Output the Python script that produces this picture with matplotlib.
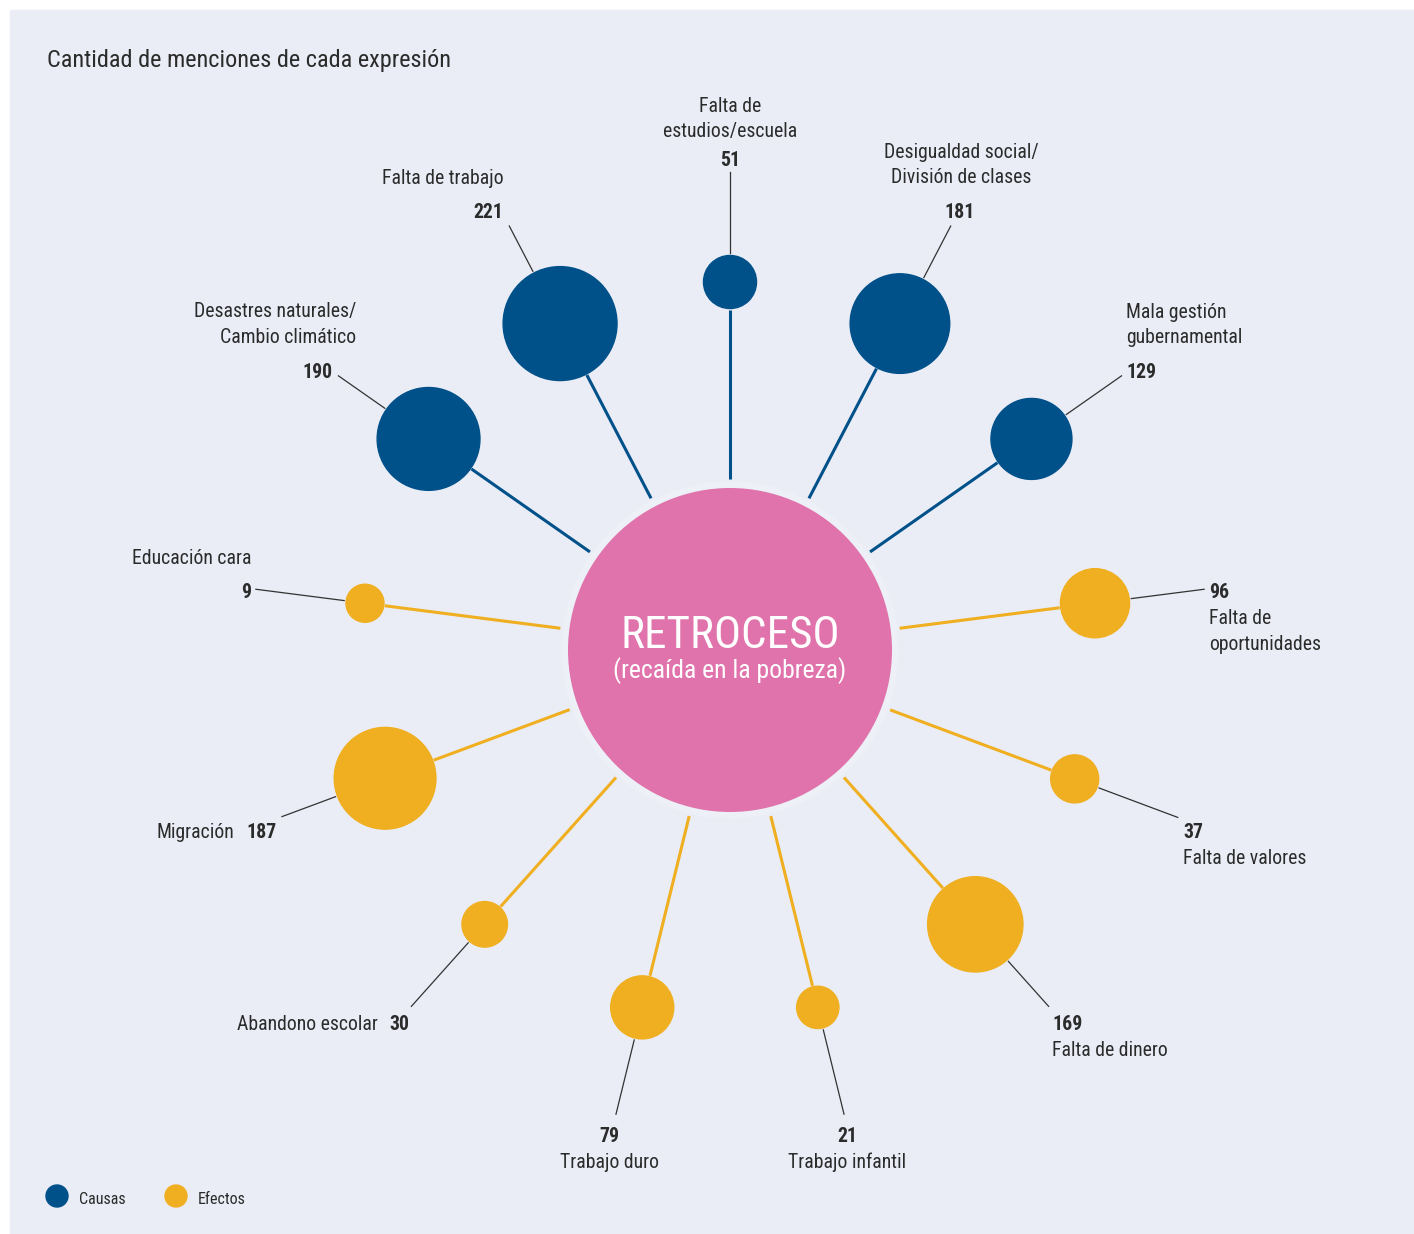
import numpy as np
import matplotlib.pyplot as plt
from matplotlib.patches import Circle, Rectangle

plt.rcParams['font.family'] = ['Roboto Condensed', 'DejaVu Sans']

# data
labels = ['Desastres naturales/\nCambio climático', 'Falta de trabajo',
          'Falta de\nestudios/escuela', 'Desigualdad social/\nDivisión de clases',
          'Mala gestión\ngubernamental',
          'Falta de\noportunidades', 'Falta de valores', 'Falta de dinero',
          'Trabajo infantil', 'Trabajo duro', 'Abandono escolar', 'Migración',
          'Educación cara']
values = [190, 221, 51, 181, 129, 96, 37, 169, 21, 79, 30, 187, 9]
kind = ['Causas'] * 5 + ['Efectos'] * 8

# layout (angle in degrees around the centre circle)
angles = [145, 117.5, 90, 62.5, 35, 7.3, -20.5, -48.2, -76.2, -103.8, -131.8, -159.6, 172.7]
# label block: x, y of first line, alignment
text_pos = [(356, 310, 'right'), (504, 176, 'right'), (730, 104, 'center'),
            (961, 150, 'center'), (1126, 310, 'left'),
            (1209, 617, 'left'), (1183, 856, 'left'), (1052, 1048, 'left'),
            (847, 1160, 'center'), (609, 1160, 'center'), (378, 1023, 'right'),
            (234, 831, 'right'), (251, 557, 'right')]
# bold number position
num_pos = [(332, 370, 'right'), (503, 210, 'right'), (730, 158, 'center'),
           (960, 210, 'center'), (1126, 370, 'left'),
           (1209, 591, 'left'), (1183, 831, 'left'), (1052, 1023, 'left'),
           (847, 1134, 'center'), (609, 1134, 'center'), (389, 1023, 'left'),
           (246, 831, 'left'), (251, 591, 'right')]

colors = {'Causas': '#00508a', 'Efectos': '#f0af20'}
bg = '#eaedf6'
txt = '#2b2b2b'
cx, cy = 730, 650
R0 = 162
dist = 368
line_h = 25.5
fs = 14.2
dy = 2  # small nudge so text centres match

fig = plt.figure(figsize=(14.14, 12.34), dpi=100)
ax = fig.add_axes([0, 0, 1, 1])
ax.set_xlim(0, 1414)
ax.set_ylim(1234, 0)
ax.set_aspect('equal')
ax.axis('off')

ax.add_patch(Rectangle((10, 10), 1404, 1224, color=bg, zorder=0))

ax.text(47, 61, 'Cantidad de menciones de cada expresión', fontsize=17.5, color=txt,
        va='center', ha='left')

# centre circle with faint halo
ax.add_patch(Circle((cx, cy), R0 + 6, color='#eef0f7', zorder=1))
ax.add_patch(Circle((cx, cy), R0, facecolor='#e073ab', edgecolor='none', zorder=3))
ax.text(cx, 636, 'RETROCESO', color='white', fontsize=32.5, ha='center', va='center', zorder=4)
ax.text(cx, 671, '(recaída en la pobreza)', color='white', fontsize=18.5, ha='center',
        va='center', zorder=4)

for lab, v, k, a, tp, npos in zip(labels, values, kind, angles, text_pos, num_pos):
    r = 17.4 + 0.179 * v
    ux, uy = np.cos(np.radians(a)), -np.sin(np.radians(a))
    bx, by = cx + dist * ux, cy + dist * uy
    col = colors[k]
    # spoke
    ax.plot([cx + (R0 + 9) * ux, bx - (r + 1) * ux], [cy + (R0 + 9) * uy, by - (r + 1) * uy],
            color=col, lw=2.2, solid_capstyle='butt', zorder=2)
    ax.add_patch(Circle((bx, by), r, color=col, zorder=3))
    # leader line
    ax.plot([bx + (r + 2) * ux, bx + 110 * ux], [by + (r + 2) * uy, by + 110 * uy],
            color='#333333', lw=0.9, zorder=2)

    x, y, ha = tp
    for i, l in enumerate(lab.split('\n')):
        ax.text(x, y + i * line_h + dy, l, fontsize=fs, color=txt, ha=ha, va='center')
    nx, ny, nha = npos
    ax.text(nx, ny + dy, str(v), fontsize=fs, fontweight='bold', color=txt, ha=nha, va='center')

# legend
for i, k in enumerate(['Causas', 'Efectos']):
    lx = 57 + i * 119
    ax.add_patch(Circle((lx, 1196), 11, color=colors[k], zorder=3))
    ax.text(lx + 22, 1199, k, fontsize=11.5, color=txt, ha='left', va='center')

fig.savefig('out.png', dpi=100, facecolor='white')
